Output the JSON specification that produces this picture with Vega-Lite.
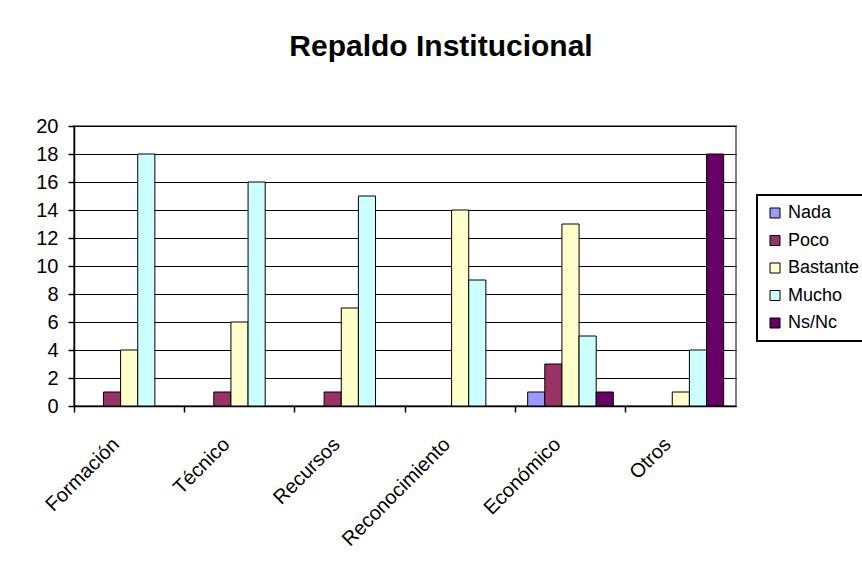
{
  "$schema": "https://vega.github.io/schema/vega-lite/v6.json",
  "width": 662,
  "height": 280,
  "autosize": {"type": "none"},
  "padding": {"left": 74, "top": 126, "right": 126, "bottom": 170},
  "background": "white",
  "title": {
    "text": "Repaldo Institucional",
    "font": "Arial, Liberation Sans",
    "fontSize": 30,
    "fontWeight": "bold",
    "color": "black",
    "anchor": "middle",
    "frame": "group",
    "baseline": "alphabetic",
    "offset": 30,
    "dx": 36
  },
  "data": {
    "values": [
      {"categoria": "Formación", "nivel": "Nada", "valor": 0},
      {"categoria": "Formación", "nivel": "Poco", "valor": 1},
      {"categoria": "Formación", "nivel": "Bastante", "valor": 4},
      {"categoria": "Formación", "nivel": "Mucho", "valor": 18},
      {"categoria": "Formación", "nivel": "Ns/Nc", "valor": 0},
      {"categoria": "Técnico", "nivel": "Nada", "valor": 0},
      {"categoria": "Técnico", "nivel": "Poco", "valor": 1},
      {"categoria": "Técnico", "nivel": "Bastante", "valor": 6},
      {"categoria": "Técnico", "nivel": "Mucho", "valor": 16},
      {"categoria": "Técnico", "nivel": "Ns/Nc", "valor": 0},
      {"categoria": "Recursos", "nivel": "Nada", "valor": 0},
      {"categoria": "Recursos", "nivel": "Poco", "valor": 1},
      {"categoria": "Recursos", "nivel": "Bastante", "valor": 7},
      {"categoria": "Recursos", "nivel": "Mucho", "valor": 15},
      {"categoria": "Recursos", "nivel": "Ns/Nc", "valor": 0},
      {"categoria": "Reconocimiento", "nivel": "Nada", "valor": 0},
      {"categoria": "Reconocimiento", "nivel": "Poco", "valor": 0},
      {"categoria": "Reconocimiento", "nivel": "Bastante", "valor": 14},
      {"categoria": "Reconocimiento", "nivel": "Mucho", "valor": 9},
      {"categoria": "Reconocimiento", "nivel": "Ns/Nc", "valor": 0},
      {"categoria": "Económico", "nivel": "Nada", "valor": 1},
      {"categoria": "Económico", "nivel": "Poco", "valor": 3},
      {"categoria": "Económico", "nivel": "Bastante", "valor": 13},
      {"categoria": "Económico", "nivel": "Mucho", "valor": 5},
      {"categoria": "Económico", "nivel": "Ns/Nc", "valor": 1},
      {"categoria": "Otros", "nivel": "Nada", "valor": 0},
      {"categoria": "Otros", "nivel": "Poco", "valor": 0},
      {"categoria": "Otros", "nivel": "Bastante", "valor": 1},
      {"categoria": "Otros", "nivel": "Mucho", "valor": 4},
      {"categoria": "Otros", "nivel": "Ns/Nc", "valor": 18}
    ]
  },
  "mark": {"type": "bar", "stroke": "black", "strokeWidth": 1, "opacity": 1},
  "encoding": {
    "x": {
      "field": "categoria",
      "type": "nominal",
      "sort": ["Formación", "Técnico", "Recursos", "Reconocimiento", "Económico", "Otros"],
      "scale": {"paddingInner": 0, "paddingOuter": 0},
      "axis": {
        "title": null,
        "domainColor": "black",
        "domainWidth": 1.5,
        "tickColor": "black",
        "tickWidth": 1.5,
        "tickSize": 6,
        "bandPosition": 0,
        "labelOffset": -13,
        "labelAngle": -45,
        "labelAlign": "right",
        "labelBaseline": "middle",
        "labelPadding": 29,
        "labelFont": "Arial, Liberation Sans",
        "labelFontSize": 20,
        "labelColor": "black",
        "grid": false
      }
    },
    "xOffset": {
      "field": "nivel",
      "type": "nominal",
      "sort": ["Nada", "Poco", "Bastante", "Mucho", "Ns/Nc"],
      "scale": {"paddingInner": 0, "paddingOuter": 0.72}
    },
    "y": {
      "field": "valor",
      "type": "quantitative",
      "scale": {"domain": [0, 20], "nice": false},
      "axis": {
        "title": null,
        "values": [0, 2, 4, 6, 8, 10, 12, 14, 16, 18, 20],
        "domainColor": "black",
        "domainWidth": 1.5,
        "tickColor": "black",
        "tickWidth": 1.5,
        "tickSize": 6,
        "labelPadding": 10,
        "labelFont": "Arial, Liberation Sans",
        "labelFontSize": 20,
        "labelColor": "black",
        "grid": true,
        "gridColor": "black",
        "gridWidth": 1.2,
        "gridOpacity": 1
      }
    },
    "strokeOpacity": {
      "condition": {"test": "datum.valor === 0", "value": 0},
      "value": 1
    },
    "color": {
      "field": "nivel",
      "type": "nominal",
      "sort": ["Nada", "Poco", "Bastante", "Mucho", "Ns/Nc"],
      "scale": {
        "domain": ["Nada", "Poco", "Bastante", "Mucho", "Ns/Nc"],
        "range": ["#9999FF", "#993366", "#FFFFCC", "#CCFFFF", "#660066"]
      },
      "legend": {
        "title": null,
        "orient": "none",
        "legendX": 683,
        "legendY": 69,
        "symbolType": "square",
        "symbolSize": 100,
        "symbolStrokeColor": "black",
        "symbolStrokeWidth": 1,
        "symbolOpacity": 1,
        "labelFont": "Arial, Liberation Sans",
        "labelFontSize": 18,
        "labelColor": "black",
        "labelOffset": 4,
        "rowPadding": 9.5,
        "padding": 9,
        "strokeColor": "black",
        "encode": {"legend": {"update": {"strokeWidth": {"value": 2}}}}
      }
    }
  },
  "config": {
    "view": {"stroke": "#808080", "strokeWidth": 2},
    "axis": {"gridColor": "black"}
  }
}
